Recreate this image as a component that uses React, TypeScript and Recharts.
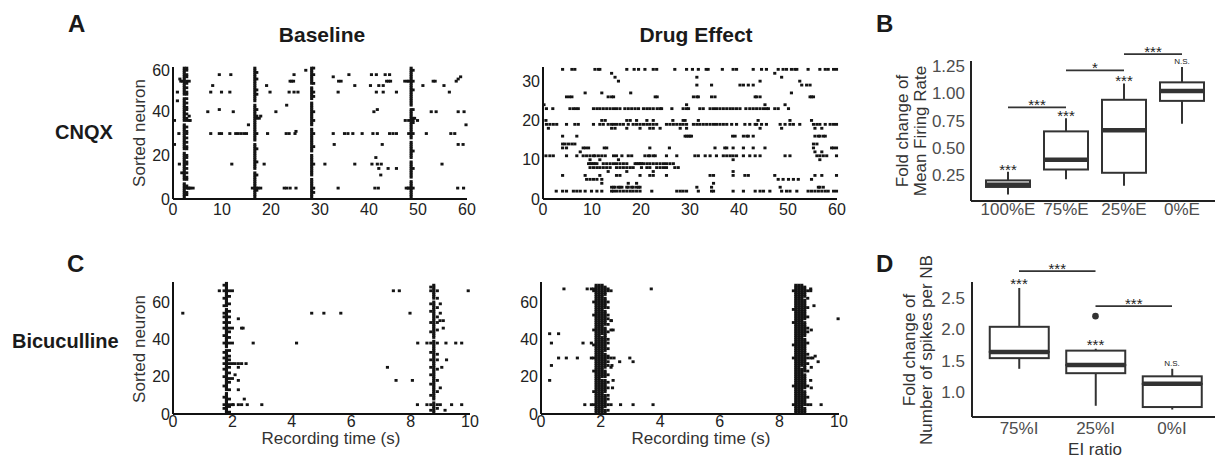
import React from 'react';
import {
  ScatterChart, Scatter, XAxis, YAxis, ComposedChart, Bar, ReferenceLine, ReferenceDot,
} from 'recharts';

const FONT = '"Liberation Sans", Arial, Helvetica, sans-serif';

type Burst = { t: number; n: number[] };
type Row = { n: number; t: number[] };

// ---------- A: CNQX baseline (time s, neuron) ----------
const cnqxBaseSpikes: [number, number][] = [
  [9.45, 57], [11.8, 57], [8.1, 52], [7.7, 49], [9.9, 49], [11.6, 49], [7.1, 40], [9.45, 41], [12.3, 40],
  [7.7, 30], [9.45, 30], [9.9, 30], [11.6, 30], [12.8, 30], [13.3, 30], [13.9, 30], [14.5, 30], [15.0, 30],
  [15.4, 34], [12.0, 16], [17.9, 38], [17.6, 37], [19.1, 52], [19.8, 49], [21.0, 40], [19.3, 30], [18.6, 16],
  [17.9, 5], [17.4, 5], [16.2, 5], [24.7, 57], [24.2, 54], [24.6, 54], [23.9, 54], [23.7, 49], [24.7, 49],
  [25.5, 49], [23.2, 43], [23.1, 30], [23.7, 30], [24.9, 30], [25.1, 31], [22.7, 5], [23.2, 5], [23.9, 5],
  [25.1, 5], [27.1, 59], [0.9, 49], [0.9, 45], [1.4, 55], [1.2, 30], [1.3, 16], [1.8, 12], [3.5, 36],
  [3.1, 5], [3.6, 5], [4.1, 5], [0.3, 36], [0.3, 25], [1.6, 54], [1.9, 54],
  [32.7, 56], [33.8, 54], [34.3, 54], [35.9, 57], [33.7, 49], [37.1, 52], [40.5, 57], [41.5, 57], [43.3, 57],
  [44.2, 57], [40.3, 52], [42.0, 52], [42.9, 52], [43.6, 54], [44.0, 54], [44.4, 54], [41.5, 49], [42.9, 49],
  [45.6, 49], [41.0, 40], [41.7, 41], [32.7, 30], [35.0, 30], [35.7, 30], [36.7, 30], [38.6, 30], [40.8, 30],
  [41.7, 30], [44.2, 30], [44.9, 30], [45.6, 30], [32.9, 25], [42.7, 25], [31.0, 16], [37.1, 16], [40.6, 16],
  [41.7, 16], [42.5, 16], [41.4, 19], [42.0, 14], [43.9, 14], [45.6, 14], [42.4, 11], [33.7, 5], [41.2, 5],
  [41.9, 5], [47.4, 36], [49.3, 37], [49.9, 36], [47.6, 5], [48.0, 5], [47.3, 54], [47.8, 54], [51.0, 52],
  [53.1, 54], [53.5, 54], [55.3, 52], [56.4, 49], [57.8, 54], [58.2, 55], [58.7, 56], [52.7, 40], [53.7, 40],
  [58.2, 40], [59.4, 40], [51.7, 30], [56.7, 30], [57.5, 30], [59.8, 34], [58.2, 25], [59.2, 25], [54.9, 16],
  [58.1, 5], [59.3, 5],
];

const cnqxBaseBursts: Burst[] = [
  { t: 2.3, n: [1, 2, 3, 4, 5, 6, 7, 9, 10, 11, 12, 13, 14, 15, 16, 17, 18, 19, 20, 21, 23, 24, 25, 26, 27, 28, 29, 30, 31, 32, 33, 34, 36, 37, 38, 39, 40, 41, 42, 43, 44, 45, 46, 48, 49, 50, 51, 52, 53, 54, 55, 56, 57, 58, 59, 60] },
  { t: 2.8, n: [2, 3, 5, 6, 9, 10, 12, 14, 16, 17, 19, 20, 23, 24, 26, 28, 30, 31, 33, 36, 37, 39, 41, 42, 44, 46, 48, 49, 51, 53, 54, 56, 57, 59, 60] },
  { t: 3.3, n: [5, 36, 38, 54] },
  { t: 16.7, n: [1, 2, 3, 4, 5, 6, 7, 8, 9, 10, 11, 12, 14, 15, 16, 17, 18, 19, 20, 21, 22, 23, 24, 25, 27, 28, 29, 30, 31, 32, 33, 34, 35, 36, 37, 38, 39, 40, 41, 42, 43, 45, 46, 47, 48, 49, 50, 51, 52, 53, 54, 55, 56, 57, 58, 59, 60] },
  { t: 17.1, n: [4, 5, 11, 17, 23, 30, 37, 38, 41, 48, 50, 55, 58] },
  { t: 28.3, n: [1, 2, 3, 4, 5, 6, 7, 8, 9, 11, 12, 13, 14, 15, 16, 17, 18, 19, 20, 22, 23, 24, 25, 26, 27, 28, 29, 30, 31, 32, 34, 35, 36, 37, 38, 39, 40, 41, 42, 43, 44, 46, 47, 48, 49, 50, 51, 53, 54, 55, 56, 57, 58, 59, 60] },
  { t: 28.7, n: [3, 5, 16, 24, 30, 36, 40, 47, 49, 53, 57, 60] },
  { t: 48.6, n: [1, 2, 3, 4, 5, 6, 7, 8, 10, 11, 12, 13, 14, 15, 16, 17, 19, 20, 21, 22, 23, 24, 25, 26, 28, 29, 30, 31, 32, 33, 34, 35, 36, 37, 38, 39, 40, 41, 43, 44, 45, 46, 47, 48, 49, 50, 51, 52, 53, 54, 55, 56, 57, 58, 59, 60] },
  { t: 49.0, n: [5, 14, 22, 30, 35, 36, 37, 41, 50, 54, 59] },
  { t: 48.1, n: [5, 30, 36, 54] },
];

// ---------- A: CNQX drug effect, one row per neuron ----------
const cnqxDrugRows: Row[] = [
  { n: 33, t: [4.0, 5.9, 6.5, 10.6, 11.3, 11.6, 17.1, 18.6, 19.5, 20.8, 22.5, 23.2, 26.9, 29.3, 30.5, 31.7, 33.3, 33.7, 36.6, 38.8, 39.5, 42.9, 44.6, 45.6, 48.0, 49.0, 49.7, 50.7, 51.4, 51.8, 54.1, 56.5, 57.6, 58.2, 59.3, 59.9] },
  { n: 32, t: [14.0, 47.3] },
  { n: 31, t: [14.7, 31.4, 48.7] },
  { n: 30, t: [15.4, 44.3, 52.4] },
  { n: 29, t: [31.4, 34.4, 40.2, 40.9, 41.9, 42.9, 52.8, 53.8, 54.5] },
  { n: 27, t: [8.6, 12.0, 17.9, 50.7] },
  { n: 26, t: [4.8, 5.4, 5.9, 13.3, 14.0, 14.4, 22.9, 23.3, 30.7, 31.4, 31.7, 34.4, 35.1, 43.3, 43.6, 44.3, 54.5, 54.8, 55.2] },
  { n: 24, t: [0.2, 29.3, 45.3, 49.4] },
  { n: 23, t: [0.7, 2.0, 5.5, 6.2, 6.7, 7.2, 10.3, 11.0, 11.6, 12.3, 13.0, 13.7, 14.4, 15.0, 15.7, 16.7, 17.4, 18.1, 18.8, 19.5, 20.5, 21.2, 21.8, 22.5, 23.3, 23.9, 24.2, 26.3, 28.6, 29.3, 29.7, 32.0, 32.7, 34.1, 34.8, 35.4, 36.1, 36.8, 37.5, 38.2, 38.8, 39.5, 40.2, 41.4, 42.2, 42.9, 43.6, 44.3, 45.0, 45.6, 46.0, 47.3, 48.0, 50.1] },
  { n: 20, t: [0.6, 12.0, 12.7, 17.1, 17.8, 19.1, 21.2, 22.5, 26.5, 28.6, 29.0, 31.7, 43.9, 50.4, 54.8] },
  { n: 19, t: [0.7, 1.4, 2.1, 2.8, 4.8, 6.5, 7.2, 10.3, 11.6, 12.3, 13.3, 14.0, 14.4, 15.0, 15.7, 16.4, 17.4, 18.4, 19.1, 19.8, 20.5, 21.2, 21.8, 22.5, 23.2, 25.2, 25.9, 26.6, 27.3, 28.0, 28.6, 29.3, 30.7, 31.4, 32.0, 32.7, 33.4, 34.1, 34.8, 35.4, 36.1, 36.8, 37.5, 38.5, 39.5, 41.2, 42.2, 43.3, 43.6, 44.6, 45.6, 48.4, 49.4, 50.4, 51.1, 52.4, 55.2, 55.9, 56.5, 57.6, 58.6, 59.3, 59.9] },
  { n: 18, t: [1.1, 14.0, 14.7, 17.1, 19.8, 21.8, 22.5, 23.9, 28.0, 29.3, 44.3, 48.7, 55.5, 56.9] },
  { n: 16, t: [4.0, 6.9, 29.0, 29.3, 29.7, 30.0, 30.3, 38.7, 39.2, 40.9, 41.6, 41.9, 42.9, 55.5, 56.2, 56.5, 57.2, 57.6] },
  { n: 14, t: [4.0, 4.5, 5.2, 5.9, 6.5, 55.2, 55.9] },
  { n: 13, t: [4.0, 4.8, 8.2, 8.7, 9.3, 12.5, 13.0, 21.8, 25.8, 35.1, 37.1, 37.5, 38.8, 40.9, 42.9, 45.3, 55.2, 58.9, 59.3, 59.9] },
  { n: 12, t: [7.6, 55.5, 56.9] },
  { n: 11, t: [0.6, 1.4, 2.1, 4.8, 6.9, 8.2, 8.9, 9.6, 10.3, 10.6, 11.3, 12.0, 12.7, 14.4, 15.0, 16.1, 17.4, 18.1, 20.8, 21.5, 21.8, 22.5, 22.9, 25.2, 27.3, 31.0, 31.7, 33.1, 34.1, 35.4, 36.8, 37.5, 38.2, 38.8, 39.5, 40.9, 42.2, 43.3, 44.3, 49.4, 50.4, 55.9, 56.5, 57.2, 57.9, 59.9] },
  { n: 10, t: [9.6, 11.6, 15.4, 38.8, 56.5] },
  { n: 9, t: [9.3, 9.6, 9.9, 10.3, 10.6, 11.0, 12.3, 13.0, 13.7, 14.4, 15.0, 15.7, 16.4, 17.1, 18.8, 19.1, 19.5, 19.8, 20.1, 20.5, 21.2, 21.8, 22.5, 23.2, 23.9, 24.6, 25.2, 25.9, 26.6] },
  { n: 8, t: [9.6, 10.3, 11.0, 11.6, 12.3, 13.0, 13.7, 15.0, 15.7, 16.4, 17.1, 17.8, 18.4, 20.1, 21.2, 21.8, 23.2, 23.9, 24.6, 25.2, 26.9, 27.6] },
  { n: 7, t: [13.3, 17.1, 22.5, 38.8] },
  { n: 6, t: [4.0, 8.6, 11.6, 15.0, 15.7, 19.8, 21.8, 22.5, 25.2, 34.1, 34.8, 38.8, 41.2, 41.9, 47.3, 55.5, 56.9, 59.9] },
  { n: 5, t: [8.9, 9.6, 10.3, 11.0, 12.0, 48.0, 49.0, 50.1, 51.1, 52.1, 54.8] },
  { n: 4, t: [12.0, 17.4, 19.1, 34.8] },
  { n: 3, t: [14.0, 14.4, 14.7, 15.4, 15.7, 16.1, 17.1, 17.4, 18.1, 18.4, 19.1, 19.5, 19.8, 31.4, 34.4, 48.4, 56.2, 56.5, 57.2] },
  { n: 2, t: [2.7, 4.0, 4.8, 6.2, 6.9, 7.6, 8.6, 9.9, 11.0, 12.0, 14.0, 14.4, 15.0, 15.7, 16.4, 17.1, 17.8, 18.4, 19.1, 19.8, 22.2, 27.3, 28.0, 28.6, 29.3, 31.7, 34.4, 34.8, 38.8, 40.9, 43.3, 44.3, 45.0, 46.3, 48.7, 49.7, 50.4, 51.8, 54.1, 54.8, 55.5, 56.2, 56.9, 57.6, 58.2, 59.3, 59.9] },
];

// ---------- C: Bicuculline baseline ----------
const bicBaseSpikes: [number, number][] = [
  [0.33, 54], [1.56, 66], [2.2, 51], [2.31, 46], [2.36, 46], [2.7, 38], [4.16, 38], [4.67, 54], [5.08, 54],
  [5.65, 54], [7.42, 66], [7.62, 66], [7.98, 54], [7.22, 25], [7.51, 18], [8.06, 18], [8.24, 38], [8.23, 5],
  [9.94, 66], [9.0, 59], [9.0, 54], [8.99, 50], [9.1, 50], [9.1, 46], [9.19, 38], [9.52, 38], [9.72, 38],
  [9.21, 29], [9.16, 2], [9.0, 5], [9.38, 5], [9.72, 5], [2.09, 27], [2.2, 27], [2.31, 27], [2.46, 27],
  [2.2, 25], [2.09, 21], [2.2, 18], [2.2, 13], [2.4, 8], [2.03, 5], [2.2, 5], [2.31, 5], [2.5, 5], [2.99, 5],
  [9.05, 25], [9.0, 14],
];

const bicBaseBursts: Burst[] = [
  { t: 1.8, n: [1, 2, 3, 4, 5, 6, 7, 8, 9, 10, 11, 13, 14, 15, 16, 17, 18, 19, 20, 21, 22, 23, 24, 25, 26, 27, 28, 29, 30, 31, 32, 33, 34, 36, 37, 38, 39, 40, 41, 42, 43, 44, 45, 46, 47, 48, 49, 50, 51, 52, 53, 54, 55, 56, 58, 59, 60, 61, 62, 63, 64, 65, 66, 67, 68, 69, 70] },
  { t: 1.72, n: [3, 5, 9, 15, 20, 24, 27, 30, 33, 38, 42, 46, 49, 52, 54, 58, 62, 66, 69] },
  { t: 1.9, n: [1, 4, 5, 8, 13, 17, 19, 22, 25, 27, 29, 31, 34, 38, 41, 44, 46, 49, 52, 55, 59, 63, 66] },
  { t: 2.0, n: [5, 19, 27, 38, 46, 66] },
  { t: 8.78, n: [1, 2, 3, 4, 5, 6, 8, 9, 10, 11, 12, 13, 14, 15, 16, 17, 18, 19, 20, 21, 22, 23, 24, 25, 26, 27, 28, 29, 30, 31, 32, 33, 34, 35, 36, 37, 38, 39, 41, 42, 43, 44, 45, 46, 47, 48, 49, 50, 51, 52, 53, 54, 55, 56, 57, 58, 59, 60, 62, 63, 64, 65, 66, 67, 68, 69] },
  { t: 8.68, n: [2, 5, 10, 16, 21, 25, 29, 33, 38, 44, 49, 55, 59, 66, 68] },
  { t: 8.9, n: [3, 5, 12, 18, 24, 29, 32, 38, 45, 49, 52, 57, 62, 66] },
  { t: 8.55, n: [5, 38] },
];

// ---------- C: Bicuculline drug effect ----------
const bicDrugSpikes: [number, number][] = [
  [0.77, 67], [3.7, 67], [1.69, 67], [1.55, 67], [0.29, 43], [0.59, 43], [0.35, 38], [1.41, 38], [1.69, 38],
  [0.35, 26], [0.29, 18], [0.59, 30], [0.85, 30], [1.22, 30], [1.69, 30], [2.45, 30], [2.64, 28], [2.98, 30],
  [3.09, 28], [1.47, 5], [1.69, 5], [2.67, 5], [3.09, 5], [3.76, 5], [2.36, 50], [2.42, 45], [2.38, 26],
  [2.42, 18], [2.4, 14], [9.05, 67], [9.16, 58], [9.97, 51], [9.07, 45], [9.3, 28], [9.07, 25], [9.05, 18],
  [9.07, 14], [9.4, 5], [9.12, 30], [9.2, 31],
];

const bicDrugAll = [1, 2, 3, 4, 5, 6, 7, 8, 9, 10, 11, 12, 13, 14, 15, 16, 17, 18, 19, 20, 21, 22, 23, 24, 25, 26, 27, 28, 29, 30, 31, 32, 33, 34, 35, 36, 37, 38, 39, 40, 41, 42, 43, 44, 45, 46, 47, 48, 49, 50, 51, 52, 53, 54, 55, 56, 57, 58, 59, 60, 61, 62, 63, 64, 65, 66, 67, 68, 69];

const bicDrugBursts: Burst[] = [
  { t: 1.85, n: bicDrugAll },
  { t: 1.95, n: bicDrugAll },
  { t: 2.05, n: [1, 2, 3, 4, 5, 6, 7, 8, 9, 10, 11, 12, 13, 14, 15, 16, 17, 18, 20, 21, 22, 23, 24, 25, 26, 27, 28, 29, 30, 31, 32, 33, 34, 35, 36, 37, 38, 39, 40, 41, 43, 44, 45, 46, 47, 48, 49, 50, 51, 52, 53, 54, 55, 56, 57, 58, 59, 60, 61, 62, 63, 64, 65, 66, 67, 68, 69] },
  { t: 2.15, n: [1, 2, 4, 5, 6, 7, 8, 9, 10, 12, 13, 14, 15, 16, 17, 18, 20, 21, 22, 23, 25, 26, 27, 28, 29, 30, 31, 32, 34, 35, 36, 37, 38, 39, 40, 41, 42, 43, 44, 45, 46, 48, 49, 50, 51, 52, 53, 54, 55, 57, 58, 59, 60, 61, 62, 64, 65, 66, 67, 68] },
  { t: 2.25, n: [2, 5, 8, 10, 14, 17, 21, 26, 28, 30, 31, 35, 38, 40, 44, 48, 51, 53, 57, 60, 66, 67] },
  { t: 1.77, n: [5, 12, 23, 30, 37, 45, 53, 60, 66, 67] },
  { t: 2.35, n: [5, 25, 30, 45, 50, 66] },
  { t: 8.55, n: bicDrugAll },
  { t: 8.65, n: bicDrugAll },
  { t: 8.75, n: [1, 2, 3, 4, 5, 6, 7, 8, 9, 10, 11, 12, 13, 14, 15, 16, 17, 18, 19, 20, 21, 22, 23, 24, 26, 27, 28, 29, 30, 31, 32, 33, 34, 35, 36, 37, 38, 39, 40, 41, 42, 43, 44, 45, 46, 47, 48, 49, 50, 51, 52, 53, 54, 55, 56, 57, 58, 59, 60, 61, 62, 63, 64, 65, 66, 67, 68, 69] },
  { t: 8.85, n: [1, 2, 3, 5, 6, 7, 8, 9, 10, 11, 12, 14, 15, 16, 17, 18, 19, 20, 21, 23, 24, 25, 26, 27, 28, 29, 30, 31, 32, 33, 34, 35, 36, 37, 38, 39, 40, 42, 43, 44, 45, 46, 47, 48, 49, 51, 52, 53, 54, 55, 56, 57, 58, 59, 60, 61, 63, 64, 65, 66, 67, 68] },
  { t: 8.95, n: [5, 9, 15, 23, 27, 30, 32, 38, 44, 46, 52, 57, 62, 66] },
  { t: 8.47, n: [5, 15, 30, 37, 49, 56, 66] },
  { t: 9.05, n: [5, 30, 66] },
];

// ---------- B: mean firing rate ----------
const firingGroups = ['100%E', '75%E', '25%E', '0%E'];
const firingMin = [0.07, 0.21, 0.15, 0.72];
const firingQ1 = [0.14, 0.3, 0.27, 0.93];
const firingMedian = [0.16, 0.39, 0.66, 1.02];
const firingQ3 = [0.2, 0.65, 0.94, 1.1];
const firingMax = [0.28, 0.77, 1.09, 1.24];
const firingStars = ['***', '***', '***', 'N.S.'];
const firingPairs: [number, number, number, string][] = [[0, 1, 0.87, '***'], [1, 2, 1.21, '*'], [2, 3, 1.36, '***']];
const firingTicks = [0.25, 0.5, 0.75, 1.0, 1.25];

// ---------- D: spikes per network burst ----------
const spikeGroups = ['75%I', '25%I', '0%I'];
const spikeMin = [1.37, 0.78, 0.72];
const spikeQ1 = [1.54, 1.3, 0.76];
const spikeMedian = [1.64, 1.43, 1.13];
const spikeQ3 = [2.04, 1.66, 1.25];
const spikeMax = [2.66, 1.69, 1.37];
const spikeOutliers: (number | null)[] = [null, 2.21, null];
const spikeStars = ['***', '***', 'N.S.'];
const spikePairs: [number, number, number, string][] = [[0, 1, 2.93, '***'], [1, 2, 2.37, '***']];
const spikeTicks = [1.0, 1.5, 2.0, 2.5];

const toPoints = (spikes: [number, number][], bursts: Burst[]) => [
  ...spikes.map(([t, n]) => ({ t, n })),
  ...bursts.flatMap((b) => b.n.map((n) => ({ t: b.t, n }))),
];
const rowPoints = (rows: Row[]) => rows.flatMap((r) => r.t.map((t) => ({ t, n: r.n })));

// small square spike marks
const renderDot = (p: any) => {
  if (p.cx == null || p.cy == null) return <g />;
  return <rect x={p.cx - 1.55} y={p.cy - 1.4} width={3.1} height={2.8} fill="#141414" />;
};

type RasterProps = {
  x0: number; x1: number; y0: number; y1: number;
  xMax: number; yMax: number; xTicks: number[]; yTicks: number[];
  xMargin: number; points: { t: number; n: number }[];
};

function Raster({ x0, x1, y0, y1, xMax, yMax, xTicks, yTicks, xMargin, points }: RasterProps) {
  const yw = 40, mt = 6, mr = 12, xh = 30;
  const left = x0 - yw, top = y0 - mt;
  const tick = { fontSize: 16, fill: '#222', fontFamily: FONT };
  return (
    <div style={{ position: 'absolute', left, top }}>
      <ScatterChart width={x1 + mr - left} height={y1 + xh - top} margin={{ top: mt, right: mr, bottom: 0, left: 0 }}>
        <XAxis type="number" dataKey="t" domain={[0, xMax]} ticks={xTicks} height={xh}
          axisLine={{ stroke: '#111', strokeWidth: 2 }} tickLine={false} tickSize={0} tickMargin={xMargin} tick={tick} />
        <YAxis type="number" dataKey="n" domain={[0, yMax]} ticks={yTicks} width={yw}
          axisLine={{ stroke: '#111', strokeWidth: 2 }} tickLine={false} tickSize={0} tickMargin={3} tick={tick} />
        <Scatter data={points} shape={renderDot} isAnimationActive={false} />
      </ScatterChart>
    </div>
  );
}

const whisker = (p: any) => (
  <line x1={p.x + p.width / 2} x2={p.x + p.width / 2} y1={p.y} y2={p.y + p.height} stroke="#333" strokeWidth={2} />
);
const lowerBox = (p: any) => (
  <g>
    <rect x={p.x} y={p.y} width={p.width} height={p.height} fill="none" stroke="#333" strokeWidth={2} />
    <line x1={p.x} x2={p.x + p.width} y1={p.y} y2={p.y} stroke="#333" strokeWidth={4.5} />
  </g>
);
const upperBox = (p: any) => (
  <rect x={p.x} y={p.y} width={p.width} height={p.height} fill="none" stroke="#333" strokeWidth={2} />
);
const noShape = () => <g />;
const outlierDot = (p: any) => (p.cx == null || p.cy == null ? <g /> : <circle cx={p.cx} cy={p.cy} r={3.3} fill="#333" />);

type BoxProps = {
  x0: number; x1: number; y0: number; y1: number; domain: [number, number];
  groups: string[]; mins: number[]; q1s: number[]; meds: number[]; q3s: number[]; maxs: number[];
  outliers?: (number | null)[]; stars: string[]; pairs: [number, number, number, string][];
  ticks: number[]; digits: number; padL: number; padR: number; barSize: number;
  yMargin: number; xMargin: number; starOffset: number;
};

function BoxPanel(props: BoxProps) {
  const { x0, x1, y0, y1, domain, groups, mins, q1s, meds, q3s, maxs, outliers, stars, pairs,
    ticks, digits, padL, padR, barSize, yMargin, xMargin, starOffset } = props;
  const yw = 50, mt = 34, xh = 30;
  const left = x0 - yw, top = y0 - mt;
  const rows = groups.map((g, i) => ({
    g, base: mins[i], lw: q1s[i] - mins[i], b1: meds[i] - q1s[i], b2: q3s[i] - meds[i], uw: maxs[i] - q3s[i],
    out: outliers ? outliers[i] : null,
  }));
  const tick = { fontSize: 17, fill: '#4d4d4d', fontFamily: FONT };
  return (
    <div style={{ position: 'absolute', left, top }}>
      <ComposedChart width={x1 - left} height={y1 + xh - top} data={rows} margin={{ top: mt, right: 0, bottom: 0, left: 0 }}>
        <XAxis dataKey="g" type="category" height={xh} padding={{ left: padL, right: padR }}
          axisLine={{ stroke: '#222', strokeWidth: 2 }} tickLine={false} tickSize={0} tickMargin={xMargin} tick={tick} />
        <YAxis type="number" domain={domain} allowDataOverflow ticks={ticks} width={yw}
          tickFormatter={(v: number) => v.toFixed(digits)}
          axisLine={{ stroke: '#222', strokeWidth: 2 }} tickLine={false} tickSize={0} tickMargin={yMargin} tick={tick} />
        <Bar dataKey="base" stackId="b" barSize={barSize} shape={noShape} isAnimationActive={false} />
        <Bar dataKey="lw" stackId="b" barSize={barSize} shape={whisker} isAnimationActive={false} />
        <Bar dataKey="b1" stackId="b" barSize={barSize} shape={lowerBox} isAnimationActive={false} />
        <Bar dataKey="b2" stackId="b" barSize={barSize} shape={upperBox} isAnimationActive={false} />
        <Bar dataKey="uw" stackId="b" barSize={barSize} shape={whisker} isAnimationActive={false} />
        {outliers && <Scatter dataKey="out" shape={outlierDot} isAnimationActive={false} />}
        {groups.map((g, i) => (
          <ReferenceDot key={'s' + g} x={g} y={maxs[i]} r={0} fill="none" stroke="none" ifOverflow="visible"
            label={{
              value: stars[i], position: 'top', offset: stars[i] === 'N.S.' ? 3 : starOffset,
              fontSize: stars[i] === 'N.S.' ? 8 : 15, fill: '#222', fontFamily: FONT,
            }} />
        ))}
        {pairs.map(([a, b, y, lab]) => (
          <ReferenceLine key={'p' + a} segment={[{ x: groups[a], y }, { x: groups[b], y }]} ifOverflow="visible"
            stroke="#333" strokeWidth={1.8}
            label={{ value: lab, position: 'top', offset: -3, fontSize: 15, fill: '#222', fontFamily: FONT }} />
        ))}
      </ComposedChart>
    </div>
  );
}

export default function App() {
  const bold = { fontFamily: FONT, fontWeight: 700, fill: '#1a1a1a' } as const;
  const lab = { fontFamily: FONT, fontSize: 17, fill: '#333' } as const;
  return (
    <div style={{ position: 'absolute', left: 0, top: 0, width: 1215, height: 458, overflow: 'hidden', background: '#fff' }}>
      <Raster x0={173} x1={467} y0={67} y1={199} xMax={60} yMax={60.5} xTicks={[0, 10, 20, 30, 40, 50, 60]}
        yTicks={[0, 20, 40, 60]} xMargin={5} points={toPoints(cnqxBaseSpikes, cnqxBaseBursts)} />
      <Raster x0={543} x1={837} y0={67} y1={199} xMax={60} yMax={33.6} xTicks={[0, 10, 20, 30, 40, 50, 60]}
        yTicks={[0, 10, 20, 30]} xMargin={5} points={rowPoints(cnqxDrugRows)} />
      <Raster x0={173} x1={470} y0={282} y1={414} xMax={10} yMax={70.7} xTicks={[0, 2, 4, 6, 8, 10]}
        yTicks={[0, 20, 40, 60]} xMargin={2} points={toPoints(bicBaseSpikes, bicBaseBursts)} />
      <Raster x0={541} x1={839} y0={282} y1={414} xMax={10} yMax={70.7} xTicks={[0, 2, 4, 6, 8, 10]}
        yTicks={[0, 20, 40, 60]} xMargin={2} points={toPoints(bicDrugSpikes, bicDrugBursts)} />

      <BoxPanel x0={971} x1={1215} y0={61} y1={201} domain={[0.011, 1.296]} groups={firingGroups}
        mins={firingMin} q1s={firingQ1} meds={firingMedian} q3s={firingQ3} maxs={firingMax}
        stars={firingStars} pairs={firingPairs} ticks={firingTicks} digits={2} padL={8} padR={4}
        barSize={44} yMargin={6} xMargin={2} starOffset={-3} />
      <BoxPanel x0={972} x1={1215} y0={282} y1={417} domain={[0.601, 2.755]} groups={spikeGroups}
        mins={spikeMin} q1s={spikeQ1} meds={spikeMedian} q3s={spikeQ3} maxs={spikeMax} outliers={spikeOutliers}
        stars={spikeStars} pairs={spikePairs} ticks={spikeTicks} digits={1} padL={8.75} padR={4.75}
        barSize={59} yMargin={7} xMargin={5} starOffset={-1} />

      <svg width={1215} height={458} style={{ position: 'absolute', left: 0, top: 0, pointerEvents: 'none' }}>
        <text x={68} y={32} fontSize={24} {...bold}>A</text>
        <text x={876} y={32} fontSize={24} {...bold}>B</text>
        <text x={67} y={272} fontSize={24} {...bold}>C</text>
        <text x={876} y={272} fontSize={24} {...bold}>D</text>
        <text x={322} y={42} fontSize={21} textAnchor="middle" {...bold}>Baseline</text>
        <text x={696} y={42} fontSize={21} textAnchor="middle" {...bold}>Drug Effect</text>
        <text x={55} y={139} fontSize={20} {...bold}>CNQX</text>
        <text x={12} y={348} fontSize={20} {...bold}>Bicuculline</text>
        <text transform="translate(145,133) rotate(-90)" textAnchor="middle" {...lab}>Sorted neuron</text>
        <text transform="translate(145,349) rotate(-90)" textAnchor="middle" {...lab}>Sorted neuron</text>
        <text x={331} y={444} textAnchor="middle" {...lab}>Recording time (s)</text>
        <text x={701} y={444} textAnchor="middle" {...lab}>Recording time (s)</text>
        <text transform="translate(908,131) rotate(-90)" textAnchor="middle" {...lab}>Fold change of</text>
        <text transform="translate(926,131) rotate(-90)" textAnchor="middle" {...lab}>Mean Firing Rate</text>
        <text transform="translate(915,350) rotate(-90)" textAnchor="middle" {...lab}>Fold change of</text>
        <text transform="translate(932,350) rotate(-90)" textAnchor="middle" {...lab}>Number of spikes per NB</text>
        <text x={1095} y={455} textAnchor="middle" {...lab}>EI ratio</text>
      </svg>
    </div>
  );
}
